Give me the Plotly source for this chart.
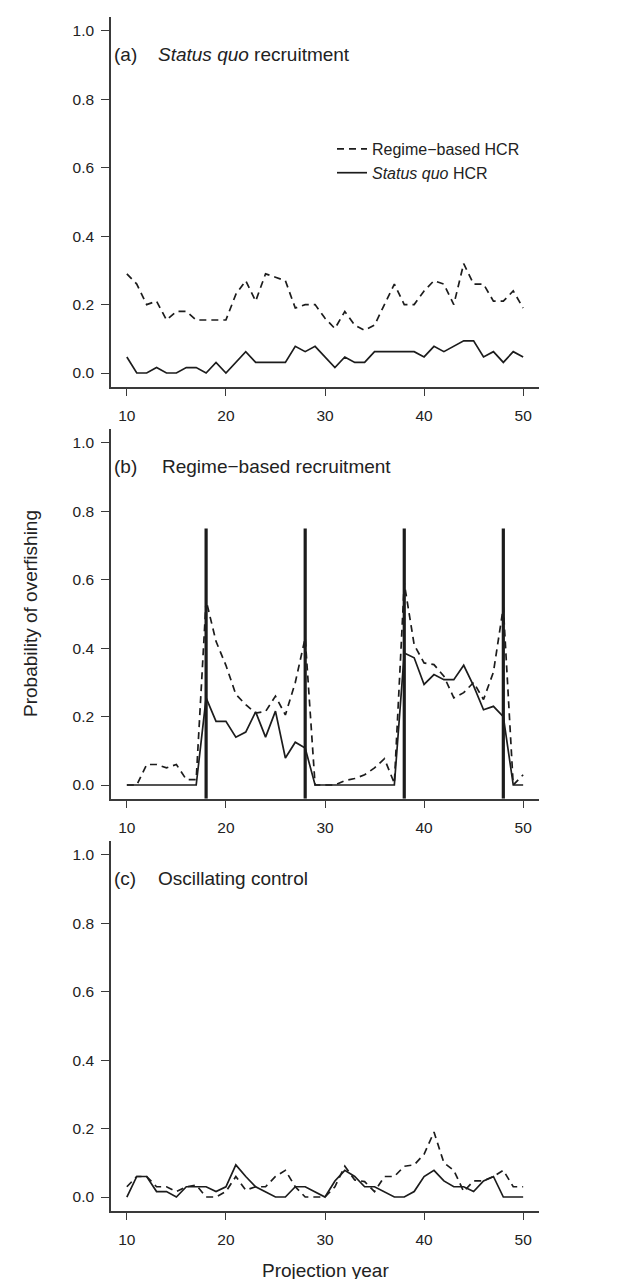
import plotly.graph_objects as go

# ---------------- data ----------------
years = list(range(10, 51))

# (a) Status quo recruitment
a_regime_hcr = [0.29, 0.26, 0.20, 0.21, 0.155, 0.18, 0.18, 0.155, 0.155, 0.155,
                0.155, 0.23, 0.27, 0.21, 0.29, 0.28, 0.27, 0.19, 0.20, 0.20,
                0.16, 0.13, 0.18, 0.14, 0.125, 0.14, 0.20, 0.26, 0.20, 0.20,
                0.24, 0.27, 0.26, 0.20, 0.32, 0.26, 0.26, 0.21, 0.21, 0.24, 0.19]
a_statusquo_hcr = [0.047, 0, 0, 0.016, 0, 0, 0.016, 0.016, 0, 0.031,
                   0, 0.031, 0.0625, 0.031, 0.031, 0.031, 0.031, 0.078, 0.0625, 0.078,
                   0.047, 0.016, 0.047, 0.031, 0.031, 0.0625, 0.0625, 0.0625, 0.0625, 0.0625,
                   0.047, 0.078, 0.0625, 0.078, 0.094, 0.094, 0.047, 0.0625, 0.031, 0.0625, 0.047]

# (b) Regime-based recruitment
b_regime_hcr = [0, 0, 0.06, 0.06, 0.05, 0.06, 0.016, 0.016,
                0.54, 0.42, 0.35, 0.265, 0.235, 0.21, 0.215, 0.26, 0.205, 0.30, 0.43,
                0, 0, 0, 0.013, 0.019, 0.03, 0.05, 0.077, 0.005,
                0.59, 0.41, 0.357, 0.352, 0.318, 0.255, 0.27, 0.30, 0.25, 0.33, 0.52,
                0, 0.03]
b_statusquo_hcr = [0, 0, 0, 0, 0, 0, 0, 0,
                   0.255, 0.186, 0.186, 0.14, 0.155, 0.214, 0.14, 0.216, 0.079, 0.125, 0.108,
                   0, 0, 0, 0, 0, 0, 0, 0, 0,
                   0.386, 0.372, 0.294, 0.323, 0.308, 0.308, 0.35, 0.29, 0.22, 0.23, 0.20,
                   0, 0]
regime_shift_years = [18, 28, 38, 48]
regime_shift_top = 0.75

# (c) Oscillating control
c_regime_hcr = [0.03, 0.06, 0.06, 0.03, 0.03, 0.016, 0.03, 0.035, 0, 0,
                0.016, 0.06, 0.02, 0.03, 0.03, 0.06, 0.078, 0.03, 0, 0,
                0, 0.03, 0.09, 0.05, 0.045, 0.016, 0.06, 0.06, 0.09, 0.094,
                0.125, 0.19, 0.10, 0.078, 0.016, 0.047, 0.047, 0.06, 0.078, 0.03, 0.03]
c_statusquo_hcr = [0, 0.06, 0.06, 0.016, 0.016, 0, 0.03, 0.03, 0.03, 0.016,
                   0.03, 0.094, 0.06, 0.03, 0.016, 0, 0, 0.03, 0.03, 0.016,
                   0, 0.047, 0.078, 0.06, 0.03, 0.03, 0.016, 0, 0, 0.016,
                   0.06, 0.078, 0.047, 0.03, 0.03, 0.016, 0.047, 0.06, 0, 0, 0]

panel_letters = ["(a)", "(b)", "(c)"]
panel_titles = ["<i>Status quo</i> recruitment", "Regime\u2212based recruitment", "Oscillating control"]
legend_names = ["Regime\u2212based HCR", "<i>Status quo</i> HCR"]
y_ticks = [0.0, 0.2, 0.4, 0.6, 0.8, 1.0]
x_ticks = [10, 20, 30, 40, 50]

# ---------------- layout geometry ----------------
W, H = 624, 1279
FONT = "Liberation Sans, Arial, Helvetica, sans-serif"
INK = "#1c1c1c"
AX = "#3a3a3a"
x_range = [8.4, 51.6]
y_range = [-0.04, 1.04]

px_left, px_right = 103, 531
panel_px = [(9.3, 378.7), (421.3, 790.7), (833.3, 1202.7)]  # top, bottom in pixels
title_x = [12.9, 13.3, 12.9]

fig = go.Figure()

series = [(a_regime_hcr, a_statusquo_hcr), (b_regime_hcr, b_statusquo_hcr), (c_regime_hcr, c_statusquo_hcr)]
for i, (dash_vals, solid_vals) in enumerate(series):
    xa = "x" if i == 0 else f"x{i+1}"
    ya = "y" if i == 0 else f"y{i+1}"
    fig.add_trace(go.Scatter(x=years, y=dash_vals, mode="lines", name=legend_names[0],
                             line=dict(color=INK, width=1.7, dash="7px,5px"),
                             xaxis=xa, yaxis=ya, showlegend=(i == 0)))
    fig.add_trace(go.Scatter(x=years, y=solid_vals, mode="lines", name=legend_names[1],
                             line=dict(color=INK, width=1.7),
                             xaxis=xa, yaxis=ya, showlegend=(i == 0)))
    if i == 1:
        vx, vy = [], []
        for yr in regime_shift_years:
            vx += [yr, yr, None]
            vy += [y_range[0], regime_shift_top, None]
        fig.add_trace(go.Scatter(x=vx, y=vy, mode="lines", line=dict(color=INK, width=3.2),
                                 xaxis=xa, yaxis=ya, showlegend=False, hoverinfo="skip"))

axis_common = dict(showgrid=False, zeroline=False, showline=True, linecolor=AX, linewidth=1.5,
                   ticks="outside", ticklen=8, tickwidth=1.4, tickcolor=AX,
                   tickfont=dict(family=FONT, size=15.5, color="#222"), automargin=False)

layout = dict(width=W, height=H, margin=dict(l=0, r=0, t=0, b=0),
              plot_bgcolor="white", paper_bgcolor="white",
              font=dict(family=FONT, color="#222"),
              legend=dict(x=324 / W, y=1 - 124 / H, xanchor="left", yanchor="top",
                          bgcolor="rgba(0,0,0,0)", font=dict(family=FONT, size=16, color="#222"),
                          tracegroupgap=0, itemwidth=30))

annotations = []
for i, (top, bot) in enumerate(panel_px):
    sfx = "" if i == 0 else str(i + 1)
    layout["xaxis" + sfx] = dict(axis_common, domain=[px_left / W, px_right / W], range=x_range,
                                 tickvals=x_ticks, anchor="y" + sfx, ticklabelstandoff=6)
    layout["yaxis" + sfx] = dict(axis_common, domain=[1 - bot / H, 1 - top / H], range=y_range,
                                 tickvals=y_ticks, tickformat=".1f", anchor="x" + sfx,
                                 ticklabelstandoff=4)
    annotations.append(dict(x=8.45, y=0.93, xref="x" + sfx, yref="y" + sfx, text=panel_letters[i],
                            showarrow=False, xanchor="left", yanchor="middle",
                            font=dict(family=FONT, size=19, color="#222")))
    annotations.append(dict(x=title_x[i], y=0.93, xref="x" + sfx, yref="y" + sfx,
                            text=panel_titles[i], showarrow=False, xanchor="left", yanchor="middle",
                            font=dict(family=FONT, size=19, color="#222")))

annotations.append(dict(x=22 / W, y=0.5, xref="paper", yref="y2", text="Probability of overfishing",
                        textangle=-90, showarrow=False, xanchor="center", yanchor="middle",
                        font=dict(family=FONT, size=19, color="#222")))
annotations.append(dict(x=30, y=17 / H, xref="x3", yref="paper", text="Projection year",
                        showarrow=False, xanchor="center", yanchor="middle",
                        font=dict(family=FONT, size=19, color="#222")))
layout["annotations"] = annotations

fig.update_layout(**layout)
fig.write_html("out.html")
